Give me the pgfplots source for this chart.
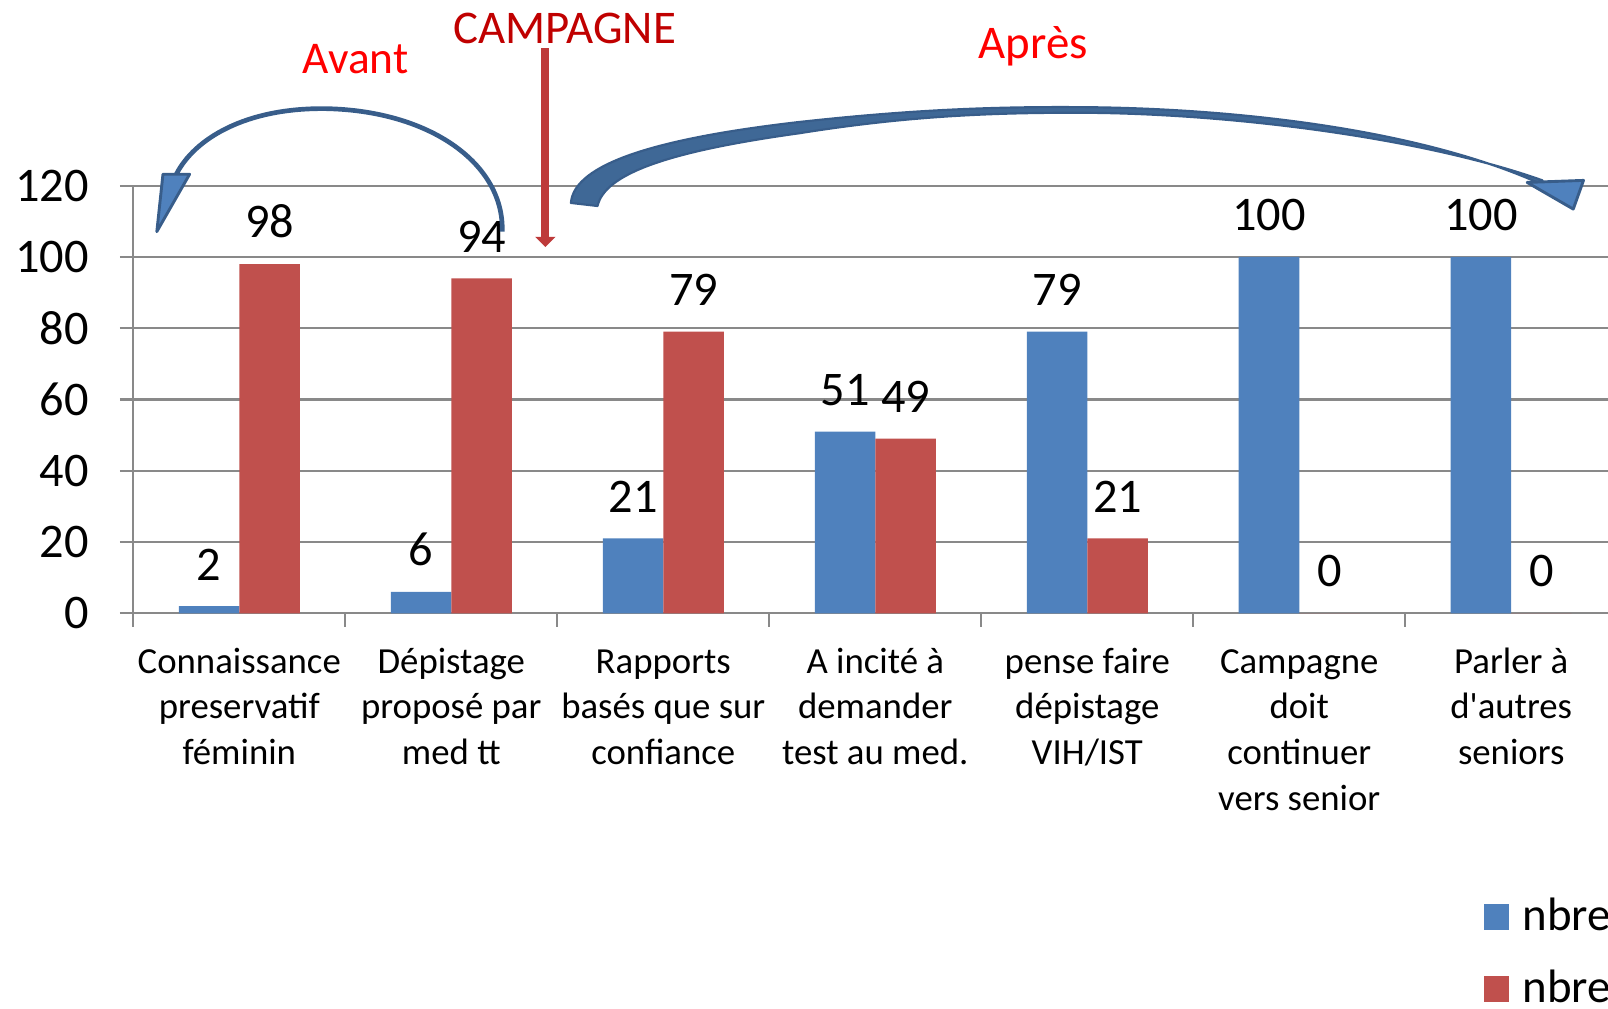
\documentclass[border=0pt]{standalone}
\usepackage{fontspec}
\setmainfont{Carlito}
\usepackage{pgfplots}
\pgfplotsset{compat=1.18}
\definecolor{sblue}{HTML}{4F81BD}
\definecolor{sred}{HTML}{C0504D}
\definecolor{gridgray}{HTML}{898989}
\definecolor{arrowblue}{HTML}{3F6896}
\definecolor{arrowedge}{HTML}{385D8A}
\definecolor{campred}{HTML}{C00000}
\definecolor{vred}{HTML}{BE3A3A}
\begin{document}
\begin{tikzpicture}
\useasboundingbox (0,0) rectangle (15.68cm,9.83cm);
\begin{axis}[
  at={(1.30cm,3.85cm)}, anchor=south west,
  scale only axis, width=14.47cm, height=4.17cm,
  ybar=0pt, bar width=0.59cm,
  xmin=-0.5, xmax=6.5, ymin=0, ymax=120,
  ytick={0,20,...,120},
  xtick={-0.5,0.5,...,6.5},
  xticklabels={},
  extra x ticks={0,1,2,3,4,5,6},
  extra x tick labels={{\strut Connaissance\\preservatif\\féminin},{\strut Dépistage\\proposé par\\med tt},{\strut Rapports\\basés que sur\\confiance},{\strut A incité à\\demander\\test au med.},{\strut pense faire\\dépistage\\VIH/IST},{\strut Campagne\\doit\\continuer\\vers senior},{\strut Parler à\\d\textquotesingle autres\\seniors}},
  extra x tick style={major tick length=0pt},
  x tick label style={align=center, font=\fontsize{10.2}{12.66}\selectfont, anchor=north, inner sep=0pt, yshift=-7.6pt},
  y tick label style={font=\fontsize{13.4}{15}\selectfont, anchor=east, inner sep=0pt, xshift=-0.30cm},
  /pgf/number format/assume math mode=true,
  axis x line*=bottom, axis y line*=left,
  axis line style={gridgray, line width=0.6pt},
  tick style={gridgray, line width=0.6pt},
  tick align=outside, major tick length=0.13cm,
  ymajorgrids, grid style={gridgray, line width=0.6pt},
  nodes near coords,
  every node near coord/.append style={font=\fontsize{13.4}{15}\selectfont, black, anchor=south, inner sep=0pt, yshift=7pt},
  legend style={at={(axis description cs:0.9094,-0.648)}, anchor=north west, draw=none, fill=none, inner sep=0pt,
    font=\fontsize{13}{15}\selectfont, row sep=5.3pt, cells={anchor=west}},
  legend image code/.code={\path[#1,draw=none] (0cm,-0.125cm) rectangle (0.25cm,0.125cm); \path (0.31cm,0cm);},
  clip=false,
]
\addplot[fill=sblue, draw=none] coordinates {(0,2) (1,6) (2,21) (3,51) (4,79) (5,100) (6,100)};
\addplot[fill=sred, draw=none] coordinates {(0,98) (1,94) (2,79) (3,49) (4,21) (5,0) (6,0)};
\legend{nbre, nbre}
\end{axis}
\begin{scope}[shift={(0cm,9.83cm)}, x=0.01cm, y=-0.01cm]
  % Avant arrow
  \draw[arrowedge, line width=1.3pt] (490,226) .. controls (492,160) and (420,108) .. (318,106) .. controls (240,105) and (190,135) .. (172,170);
  \filldraw[fill=sblue, draw=arrowedge, line width=0.8pt, line join=round] (159,170) -- (185,170) -- (153,226) -- cycle;
  % Apres arrow
  \filldraw[fill=arrowblue, draw=arrowedge, line width=0.6pt, line join=round]
    (557,198) .. controls (560,160) and (640,135) .. (780,119)
    .. controls (880,108) and (960,104) .. (1049,104.5)
    .. controls (1200,105) and (1380,125) .. (1500,178)
    -- (1505,176)
    .. controls (1390,135) and (1200,110) .. (1049,110)
    .. controls (960,110) and (880,114) .. (780,130)
    .. controls (650,148) and (590,170) .. (583,201) -- cycle;
  \filldraw[fill=sblue, draw=arrowedge, line width=0.8pt, line join=round] (1490,178) -- (1545,176) -- (1535,204) -- cycle;
  % Campagne arrow
  \fill[vred] (528,47) rectangle (536,232);
  \fill[vred] (522,231) -- (542,231) -- (532,241) -- cycle;
  % texts
  \node[anchor=base, text=red, font=\fontsize{12.6}{15}\selectfont, inner sep=0pt] at (347,71.5) {Avant};
  \node[anchor=base, text=campred, font=\fontsize{13}{15}\selectfont, inner sep=0pt] at (551,42) {CAMPAGNE};
  \node[anchor=base, text=red, font=\fontsize{13}{15}\selectfont, inner sep=0pt] at (1008,57) {Après};
\end{scope}
\end{tikzpicture}
\end{document}
